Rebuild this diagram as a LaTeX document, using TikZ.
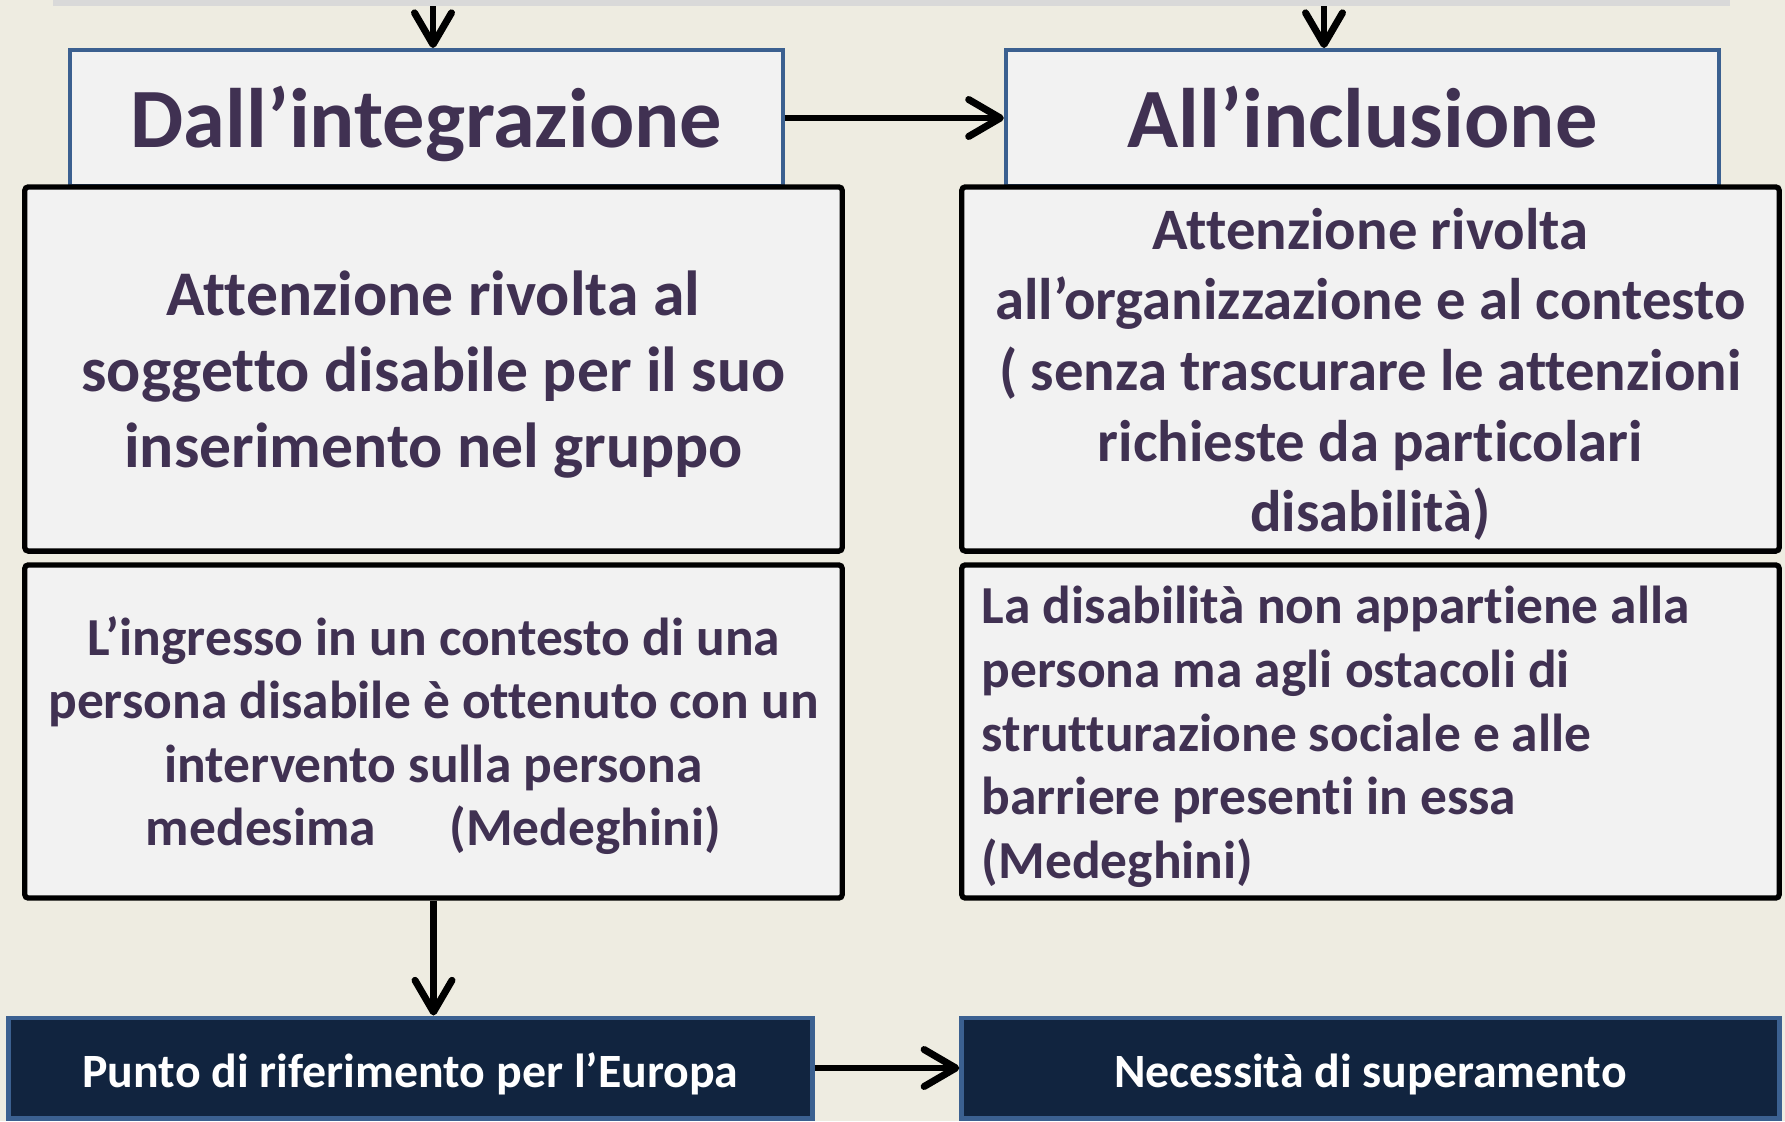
\documentclass[tikz,border=0pt]{standalone}
\usepackage{fontspec}
\setmainfont{Carlito}[Ligatures=NoCommon]
\usepackage{tikz}
\usetikzlibrary{arrows.meta,positioning}

\definecolor{bgtan}{HTML}{EEECE1}
\definecolor{bargrey}{HTML}{D9D9D9}
\definecolor{boxgrey}{HTML}{F2F2F2}
\definecolor{headblue}{HTML}{3B6090}
\definecolor{txtpurple}{HTML}{403152}
\definecolor{navy}{HTML}{11243F}

\tikzset{
  arr/.style={line width=1.8pt, -{Straight Barb[length=9pt,width=10.5pt,line width=2pt,round]}},
  headbox/.style={draw=headblue, line width=1.1pt, fill=boxgrey, inner sep=0pt,
    minimum width=7.12cm, minimum height=1.36cm, text=txtpurple,
    text height=22pt, text depth=5pt,
    font=\fontsize{24}{29}\selectfont\bfseries},
  mainbox/.style={draw=black, line width=1.5pt, rounded corners=1pt, fill=boxgrey,
    inner sep=0pt, minimum width=8.17cm},
  boxtext/.style={text=txtpurple, inner sep=0pt, align=center,
    execute at begin node=\strut, execute at end node=\strut},
  navybox/.style={draw=headblue, line width=1.4pt, fill=navy, inner sep=0pt,
    minimum height=1cm, text=white, text height=13pt, text depth=2.2pt,
    font=\fontsize{13.6}{16}\selectfont\bfseries}
}

\begin{document}
\begin{tikzpicture}[x=0.01cm,y=-0.01cm]
\useasboundingbox (0,0) rectangle (1785,1121);
\clip (0,0) rectangle (1785,1121);
\fill[bgtan] (0,0) rectangle (1785,1121);
\fill[bargrey] (53,-5) rectangle (1730,6);
\coordinate (top1) at (433,6);
\coordinate (top2) at (1324,6);

\node[headbox] (integr) at (426.5,118) {Dall’integrazione};
\node[headbox, minimum width=7.13cm] (inclus) at (1362.5,118) {All’inclusione};

\node[mainbox, minimum height=3.64cm] (soggetto) at (433.5,369) {};
\node[boxtext, yshift=-0.114cm, font=\fontsize{18.1}{21.6}\selectfont\bfseries] (soggettotxt) at (soggetto.center)
  {Attenzione rivolta al\\soggetto disabile per il suo\\inserimento nel gruppo};
\node[mainbox, minimum height=3.64cm] (contesto) at (1370.5,369) {};
\node[boxtext, yshift=-0.114cm, font=\fontsize{16.7}{20.1}\selectfont\bfseries] (contestotxt) at (contesto.center)
  {Attenzione rivolta\\all’organizzazione e al contesto\\( senza trascurare le attenzioni\\richieste da particolari\\disabilità)};
\node[mainbox, minimum height=3.33cm] (ingresso) at (433.5,731.5) {};
\node[boxtext, yshift=-0.091cm, font=\fontsize{15.2}{18.1}\selectfont\bfseries] (ingressotxt) at (ingresso.center)
  {L’ingresso in un contesto di una\\persona disabile è ottenuto con un\\intervento sulla persona\\medesima\hspace{1.37em}(Medeghini)};
\node[mainbox, minimum height=3.33cm] (ostacoli) at (1370.5,731.5) {};
\node[boxtext, yshift=-0.068cm, align=none, text width=7.77cm, execute at begin node={}, execute at end node={},
  font=\fontsize{15.2}{18.1}\selectfont\bfseries] (ostacolitxt) at (ostacoli.center)
  {\raggedright\strut La disabilità non appartiene alla\\persona ma agli ostacoli di\\strutturazione sociale e alle\\barriere presenti in essa\\(Medeghini)\strut};

\node[navybox, minimum width=8.03cm] (europa) at (410.5,1068) {Punto di riferimento per l’Europa};
\node[navybox, minimum width=8.17cm] (supera) at (1370.5,1068) {Necessità di superamento};

\draw[arr] (top1) -- (top1 |- integr.north);
\draw[arr] (top2) -- (top2 |- inclus.north);
\draw[arr] (integr.east) -- (inclus.west);
\draw[arr] (ingresso.south) -- (ingresso.south |- europa.north);
\draw[arr] (europa.east) -- (supera.west);
\end{tikzpicture}
\end{document}
